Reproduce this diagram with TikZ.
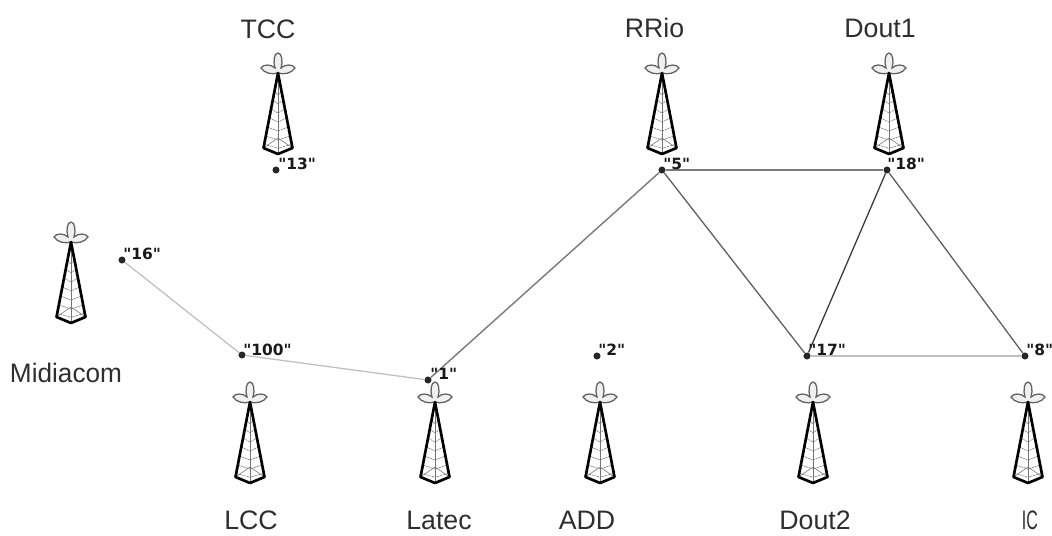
\documentclass[tikz,border=0pt]{standalone}
\usepackage{fontspec}
\setmainfont{Liberation Sans}
\newfontfamily\dotfont{DejaVu Sans}
\usepackage{tikz}
\tikzset{
	linkdark/.style={draw=black!78,line width=0.9pt},
	linkgrey/.style={draw=black!64,line width=0.9pt},
	linkmid/.style={draw=black!52,line width=1pt},
	linklight/.style={draw=black!25,line width=0.9pt},
	sitedot/.style={circle,fill=black!85,inner sep=0pt,minimum size=5pt},
	sitelabel/.style={font=\dotfont\bfseries\fontsize{11}{12}\selectfont,text=black!90,inner sep=0pt,anchor=west},
	towername/.style={font=\fontsize{19}{21}\selectfont,text=black!82,inner sep=0pt}
}
\def\tower(#1,#2){
	\begin{scope}[shift={(#1,#2)}]
		\draw[black!62,fill=black!6,line width=0.9pt] (0,0) .. controls (-6,2) and (-14,0) .. (-17,-5) .. controls (-15,-9) and (-7,-9) .. (-3,-5) .. controls (-5,-11) and (-4,-20) .. (0,-20) .. controls (4,-20) and (5,-11) .. (3,-5) .. controls (7,-9) and (15,-9) .. (17,-5) .. controls (14,0) and (6,2) .. (0,0);
		\foreach \t in {0.24,0.36,0.48,0.60,0.72,0.84,0.95}{
			\draw[black!55,line width=0.4pt,dash pattern=on 1.5pt off 0.5pt] (-14.5*\t,75*\t) -- (0,75*\t+4) -- (14.5*\t,75*\t);
		}
		\draw[black!55,line width=0.4pt] (-14.5,75) -- (0,65) -- (14.5,75);
		\draw[black!55,line width=0.4pt] (0,0) -- (0,81);
		\draw[black,line width=1.9pt,line join=round] (0,0) -- (-14.5,75) -- (0,81) -- (14.5,75) -- cycle;
	\end{scope}
}

\begin{document}
\begin{tikzpicture}[x=0.025cm,y=-0.025cm]
	%%%%% START %%%%%
	\useasboundingbox (0,0) rectangle (1052,535);
	
	\tower(278,73)
	\tower(662,73)
	\tower(889,73)
	\tower(71,242)
	\tower(250,402)
	\tower(435,402)
	\tower(600,402)
	\tower(813,402)
	\tower(1028,402)
	
	\node[sitedot] (nsixteen) at (122,260) {};
	\node[sitedot] (nhundred) at (242,355) {};
	\node[sitedot] (none) at (428,380) {};
	\node[sitedot] (ntwo) at (597,356) {};
	\node[sitedot] (nfive) at (662,170) {};
	\node[sitedot] (neighteen) at (887,170) {};
	\node[sitedot] (nseventeen) at (807,356) {};
	\node[sitedot] (neight) at (1025,356) {};
	\node[sitedot] (nthirteen) at (276,170) {};
	
	\draw[linklight] (nsixteen) -- (nhundred);
	\draw[linklight] (nhundred) -- (none);
	\draw[linkmid] (none) -- (nfive);
	\draw[linkmid] (nfive) -- (neighteen);
	\draw[linkgrey] (nfive) -- (nseventeen);
	\draw[linkdark] (neighteen) -- (nseventeen);
	\draw[linkgrey] (neighteen) -- (neight);
	\draw[linklight] (nseventeen) -- (neight);
	
	\node[sitelabel] (lsixteen) at (123,254) {"16"};
	\node[sitelabel] (lhundred) at (243,350) {"100"};
	\node[sitelabel] (lone) at (430,374) {"1"};
	\node[sitelabel] (ltwo) at (598,350) {"2"};
	\node[sitelabel] (lfive) at (663,164) {"5"};
	\node[sitelabel] (leighteen) at (887,164) {"18"};
	\node[sitelabel] (lseventeen) at (808,350) {"17"};
	\node[sitelabel] (leight) at (1026,350) {"8"};
	\node[sitelabel] (lthirteen) at (278,164) {"13"};
	
	\node[towername] (tcc) at (268,29) {TCC};
	\node[towername] (rrio) at (654.5,28) {RRio};
	\node[towername] (doutone) at (880,28) {Dout1};
	\node[towername,xscale=0.98] (midiacom) at (66,373) {Midiacom};
	\node[towername] (lcc) at (251,520) {LCC};
	\node[towername] (latec) at (439,520) {Latec};
	\node[towername] (add) at (587,520) {ADD};
	\node[towername] (douttwo) at (815,520) {Dout2};
	\node[towername,xscale=0.6] (ic) at (1030,520) {IC};
	%%%%% END %%%%%
\end{tikzpicture}
\end{document}
